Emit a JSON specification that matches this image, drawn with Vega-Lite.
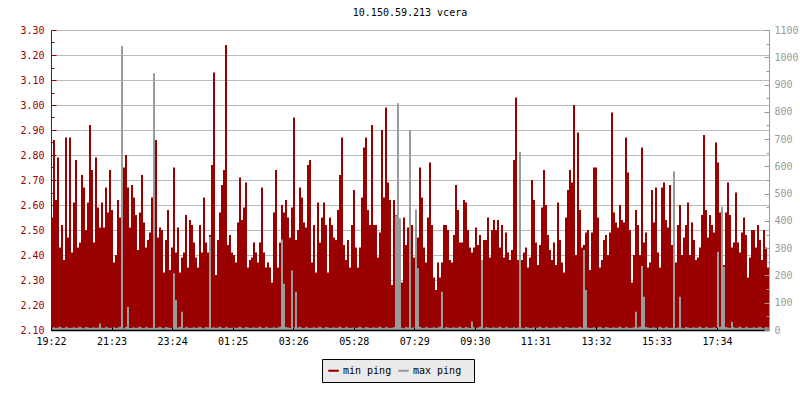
{
"$schema": "https://vega.github.io/schema/vega-lite/v6.json",
"width": 718, "height": 300,
"autosize": "none",
"padding": {"left": 51, "top": 30, "right": 31, "bottom": 70},
"background": "white",
"config": {"view": {"stroke": null}},
"title": {"text": "10.150.59.213 vcera", "font": "DejaVu Sans Mono", "fontSize": 10, "fontWeight": "normal", "color": "#000000", "offset": 7, "anchor": "middle"},
"data": {"values": [
{"t":0,"min":2.55,"max":8},{"t":4,"min":2.86,"max":10},{"t":8,"min":2.62,"max":7},{"t":12,"min":2.79,"max":9},{"t":16,"min":2.43,"max":12},{"t":20,"min":2.52,"max":8},{"t":24,"min":2.38,"max":6},{"t":28,"min":2.87,"max":11},{"t":32,"min":2.47,"max":9},{"t":36,"min":2.87,"max":7},
{"t":40,"min":2.41,"max":8},{"t":44,"min":2.61,"max":10},{"t":48,"min":2.78,"max":7},{"t":52,"min":2.43,"max":9},{"t":56,"min":2.45,"max":12},{"t":60,"min":2.72,"max":8},{"t":64,"min":2.67,"max":6},{"t":68,"min":2.50,"max":11},{"t":72,"min":2.61,"max":9},{"t":76,"min":2.92,"max":7},
{"t":80,"min":2.74,"max":8},{"t":84,"min":2.45,"max":10},{"t":88,"min":2.79,"max":7},{"t":92,"min":2.59,"max":9},{"t":96,"min":2.51,"max":24},{"t":100,"min":2.61,"max":8},{"t":104,"min":2.51,"max":6},{"t":108,"min":2.67,"max":11},{"t":112,"min":2.57,"max":9},{"t":116,"min":2.74,"max":7},
{"t":120,"min":2.58,"max":8},{"t":124,"min":2.37,"max":10},{"t":128,"min":2.40,"max":7},{"t":132,"min":2.62,"max":9},{"t":136,"min":2.55,"max":12},{"t":140,"min":2.67,"max":1041},{"t":144,"min":2.75,"max":6},{"t":148,"min":2.80,"max":11},{"t":152,"min":2.67,"max":85},{"t":156,"min":2.51,"max":7},
{"t":160,"min":2.68,"max":8},{"t":164,"min":2.63,"max":10},{"t":168,"min":2.56,"max":7},{"t":172,"min":2.42,"max":9},{"t":176,"min":2.57,"max":12},{"t":180,"min":2.72,"max":8},{"t":184,"min":2.53,"max":6},{"t":188,"min":2.43,"max":11},{"t":192,"min":2.46,"max":9},{"t":196,"min":2.49,"max":7},
{"t":200,"min":2.63,"max":8},{"t":204,"min":2.62,"max":941},{"t":208,"min":2.86,"max":7},{"t":212,"min":2.47,"max":9},{"t":216,"min":2.51,"max":12},{"t":220,"min":2.50,"max":8},{"t":224,"min":2.33,"max":6},{"t":228,"min":2.46,"max":11},{"t":232,"min":2.58,"max":9},{"t":236,"min":2.34,"max":7},
{"t":240,"min":2.43,"max":8},{"t":244,"min":2.75,"max":208},{"t":248,"min":2.41,"max":110},{"t":252,"min":2.51,"max":9},{"t":256,"min":2.33,"max":12},{"t":260,"min":2.39,"max":67},{"t":264,"min":2.41,"max":6},{"t":268,"min":2.56,"max":11},{"t":272,"min":2.35,"max":9},{"t":276,"min":2.54,"max":7},
{"t":280,"min":2.52,"max":8},{"t":284,"min":2.45,"max":10},{"t":288,"min":2.39,"max":7},{"t":292,"min":2.35,"max":9},{"t":296,"min":2.52,"max":12},{"t":300,"min":2.41,"max":8},{"t":304,"min":2.63,"max":6},{"t":308,"min":2.45,"max":11},{"t":312,"min":2.41,"max":9},{"t":316,"min":2.48,"max":342},
{"t":320,"min":2.76,"max":8},{"t":324,"min":3.13,"max":10},{"t":328,"min":2.32,"max":7},{"t":332,"min":2.46,"max":9},{"t":336,"min":2.57,"max":12},{"t":340,"min":2.68,"max":8},{"t":344,"min":2.74,"max":6},{"t":348,"min":3.24,"max":11},{"t":352,"min":2.44,"max":9},{"t":356,"min":2.48,"max":7},
{"t":360,"min":2.41,"max":8},{"t":364,"min":2.40,"max":10},{"t":368,"min":2.37,"max":7},{"t":372,"min":2.53,"max":9},{"t":376,"min":2.71,"max":12},{"t":380,"min":2.54,"max":8},{"t":384,"min":2.59,"max":6},{"t":388,"min":2.69,"max":11},{"t":392,"min":2.35,"max":9},{"t":396,"min":2.38,"max":7},
{"t":400,"min":2.39,"max":8},{"t":404,"min":2.45,"max":10},{"t":408,"min":2.41,"max":7},{"t":412,"min":2.37,"max":9},{"t":416,"min":2.45,"max":12},{"t":420,"min":2.67,"max":8},{"t":424,"min":2.41,"max":6},{"t":428,"min":2.35,"max":11},{"t":432,"min":2.37,"max":9},{"t":436,"min":2.35,"max":7},
{"t":440,"min":2.29,"max":8},{"t":444,"min":2.57,"max":10},{"t":448,"min":2.74,"max":7},{"t":452,"min":2.35,"max":9},{"t":456,"min":2.45,"max":12},{"t":460,"min":2.60,"max":332},{"t":464,"min":2.57,"max":170},{"t":468,"min":2.62,"max":11},{"t":472,"min":2.55,"max":9},{"t":476,"min":2.47,"max":7},
{"t":480,"min":2.59,"max":218},{"t":484,"min":2.95,"max":10},{"t":488,"min":2.46,"max":140},{"t":492,"min":2.50,"max":9},{"t":496,"min":2.67,"max":12},{"t":500,"min":2.63,"max":8},{"t":504,"min":2.53,"max":6},{"t":508,"min":2.51,"max":11},{"t":512,"min":2.76,"max":9},{"t":516,"min":2.78,"max":7},
{"t":520,"min":2.37,"max":8},{"t":524,"min":2.52,"max":10},{"t":528,"min":2.33,"max":7},{"t":532,"min":2.61,"max":9},{"t":536,"min":2.45,"max":12},{"t":540,"min":2.55,"max":8},{"t":544,"min":2.61,"max":6},{"t":548,"min":2.52,"max":11},{"t":552,"min":2.33,"max":9},{"t":556,"min":2.55,"max":7},
{"t":560,"min":2.52,"max":8},{"t":564,"min":2.47,"max":10},{"t":568,"min":2.46,"max":7},{"t":572,"min":2.58,"max":9},{"t":576,"min":2.72,"max":12},{"t":580,"min":2.87,"max":8},{"t":584,"min":2.44,"max":6},{"t":588,"min":2.38,"max":11},{"t":592,"min":2.46,"max":9},{"t":596,"min":2.35,"max":7},
{"t":600,"min":2.52,"max":8},{"t":604,"min":2.66,"max":10},{"t":608,"min":2.43,"max":7},{"t":612,"min":2.35,"max":9},{"t":616,"min":2.43,"max":12},{"t":620,"min":2.63,"max":8},{"t":624,"min":2.83,"max":6},{"t":628,"min":2.87,"max":11},{"t":632,"min":2.58,"max":9},{"t":636,"min":2.52,"max":7},
{"t":640,"min":2.92,"max":8},{"t":644,"min":2.52,"max":10},{"t":648,"min":2.52,"max":7},{"t":652,"min":2.39,"max":9},{"t":656,"min":2.49,"max":12},{"t":660,"min":2.90,"max":8},{"t":664,"min":2.63,"max":6},{"t":668,"min":2.99,"max":11},{"t":672,"min":2.69,"max":9},{"t":676,"min":2.62,"max":7},
{"t":680,"min":2.28,"max":8},{"t":684,"min":2.62,"max":10},{"t":688,"min":2.56,"max":420},{"t":692,"min":2.63,"max":831},{"t":696,"min":2.39,"max":410},{"t":700,"min":2.29,"max":8},{"t":704,"min":2.55,"max":6},{"t":708,"min":2.44,"max":11},{"t":712,"min":2.51,"max":9},{"t":716,"min":2.50,"max":733},
{"t":720,"min":2.52,"max":8},{"t":724,"min":2.39,"max":10},{"t":728,"min":2.55,"max":442},{"t":732,"min":2.47,"max":226},{"t":736,"min":2.75,"max":12},{"t":740,"min":2.63,"max":8},{"t":744,"min":2.43,"max":6},{"t":748,"min":2.37,"max":11},{"t":752,"min":2.55,"max":9},{"t":756,"min":2.77,"max":7},
{"t":760,"min":2.52,"max":8},{"t":764,"min":2.31,"max":10},{"t":768,"min":2.26,"max":7},{"t":772,"min":2.37,"max":9},{"t":776,"min":2.31,"max":12},{"t":780,"min":2.37,"max":140},{"t":784,"min":2.52,"max":6},{"t":788,"min":2.52,"max":11},{"t":792,"min":2.50,"max":9},{"t":796,"min":2.38,"max":7},
{"t":800,"min":2.37,"max":8},{"t":804,"min":2.48,"max":10},{"t":808,"min":2.68,"max":7},{"t":812,"min":2.58,"max":9},{"t":816,"min":2.45,"max":12},{"t":820,"min":2.45,"max":8},{"t":824,"min":2.62,"max":6},{"t":828,"min":2.61,"max":11},{"t":832,"min":2.50,"max":9},{"t":836,"min":2.43,"max":7},
{"t":840,"min":2.41,"max":31},{"t":844,"min":2.43,"max":10},{"t":848,"min":2.51,"max":7},{"t":852,"min":2.44,"max":9},{"t":856,"min":2.48,"max":12},{"t":860,"min":2.34,"max":257},{"t":864,"min":2.46,"max":6},{"t":868,"min":2.46,"max":11},{"t":872,"min":2.55,"max":9},{"t":876,"min":2.39,"max":7},
{"t":880,"min":2.50,"max":8},{"t":884,"min":2.54,"max":10},{"t":888,"min":2.50,"max":7},{"t":892,"min":2.54,"max":9},{"t":896,"min":2.43,"max":12},{"t":900,"min":2.52,"max":8},{"t":904,"min":2.39,"max":6},{"t":908,"min":2.49,"max":11},{"t":912,"min":2.41,"max":9},{"t":916,"min":2.38,"max":7},
{"t":920,"min":2.42,"max":8},{"t":924,"min":2.78,"max":10},{"t":928,"min":3.03,"max":7},{"t":932,"min":2.38,"max":9},{"t":936,"min":2.48,"max":654},{"t":940,"min":2.38,"max":8},{"t":944,"min":2.41,"max":6},{"t":948,"min":2.43,"max":11},{"t":952,"min":2.35,"max":9},{"t":956,"min":2.39,"max":7},
{"t":960,"min":2.70,"max":8},{"t":964,"min":2.62,"max":10},{"t":968,"min":2.45,"max":7},{"t":972,"min":2.36,"max":9},{"t":976,"min":2.44,"max":12},{"t":980,"min":2.59,"max":8},{"t":984,"min":2.74,"max":6},{"t":988,"min":2.60,"max":11},{"t":992,"min":2.48,"max":9},{"t":996,"min":2.42,"max":7},
{"t":1000,"min":2.38,"max":8},{"t":1004,"min":2.45,"max":10},{"t":1008,"min":2.36,"max":7},{"t":1012,"min":2.61,"max":9},{"t":1016,"min":2.46,"max":12},{"t":1020,"min":2.37,"max":8},{"t":1024,"min":2.33,"max":6},{"t":1028,"min":2.55,"max":11},{"t":1032,"min":2.66,"max":9},{"t":1036,"min":2.74,"max":7},
{"t":1040,"min":2.69,"max":8},{"t":1044,"min":3.00,"max":10},{"t":1048,"min":2.40,"max":7},{"t":1052,"min":2.89,"max":9},{"t":1056,"min":2.58,"max":12},{"t":1060,"min":2.43,"max":8},{"t":1064,"min":2.44,"max":293},{"t":1068,"min":2.49,"max":147},{"t":1072,"min":2.50,"max":9},{"t":1076,"min":2.34,"max":7},
{"t":1080,"min":2.49,"max":8},{"t":1084,"min":2.75,"max":10},{"t":1088,"min":2.75,"max":7},{"t":1092,"min":2.55,"max":9},{"t":1096,"min":2.35,"max":12},{"t":1100,"min":2.38,"max":8},{"t":1104,"min":2.46,"max":6},{"t":1108,"min":2.48,"max":11},{"t":1112,"min":2.40,"max":9},{"t":1116,"min":2.49,"max":7},
{"t":1120,"min":2.97,"max":8},{"t":1124,"min":2.57,"max":10},{"t":1128,"min":2.53,"max":7},{"t":1132,"min":2.51,"max":9},{"t":1136,"min":2.60,"max":12},{"t":1140,"min":2.54,"max":8},{"t":1144,"min":2.53,"max":6},{"t":1148,"min":2.87,"max":11},{"t":1152,"min":2.73,"max":9},{"t":1156,"min":2.50,"max":7},
{"t":1160,"min":2.29,"max":8},{"t":1164,"min":2.40,"max":10},{"t":1168,"min":2.58,"max":67},{"t":1172,"min":2.52,"max":9},{"t":1176,"min":2.40,"max":12},{"t":1180,"min":2.83,"max":235},{"t":1184,"min":2.45,"max":122},{"t":1188,"min":2.49,"max":11},{"t":1192,"min":2.35,"max":9},{"t":1196,"min":2.37,"max":7},
{"t":1200,"min":2.66,"max":8},{"t":1204,"min":2.53,"max":10},{"t":1208,"min":2.67,"max":7},{"t":1212,"min":2.41,"max":9},{"t":1216,"min":2.35,"max":12},{"t":1220,"min":2.67,"max":8},{"t":1224,"min":2.69,"max":6},{"t":1228,"min":2.54,"max":11},{"t":1232,"min":2.51,"max":9},{"t":1236,"min":2.68,"max":7},
{"t":1240,"min":2.44,"max":8},{"t":1244,"min":2.42,"max":581},{"t":1248,"min":2.37,"max":7},{"t":1252,"min":2.52,"max":9},{"t":1256,"min":2.60,"max":122},{"t":1260,"min":2.40,"max":8},{"t":1264,"min":2.47,"max":6},{"t":1268,"min":2.52,"max":11},{"t":1272,"min":2.61,"max":9},{"t":1276,"min":2.40,"max":7},
{"t":1280,"min":2.53,"max":8},{"t":1284,"min":2.46,"max":10},{"t":1288,"min":2.38,"max":7},{"t":1292,"min":2.39,"max":9},{"t":1296,"min":2.43,"max":12},{"t":1300,"min":2.56,"max":8},{"t":1304,"min":2.88,"max":6},{"t":1308,"min":2.58,"max":11},{"t":1312,"min":2.47,"max":9},{"t":1316,"min":2.56,"max":7},
{"t":1320,"min":2.52,"max":8},{"t":1324,"min":2.49,"max":10},{"t":1328,"min":2.85,"max":7},{"t":1332,"min":2.77,"max":287},{"t":1336,"min":2.57,"max":12},{"t":1340,"min":2.43,"max":452},{"t":1344,"min":2.36,"max":232},{"t":1348,"min":2.57,"max":11},{"t":1352,"min":2.69,"max":9},{"t":1356,"min":2.56,"max":7},
{"t":1360,"min":2.43,"max":30},{"t":1364,"min":2.45,"max":10},{"t":1368,"min":2.65,"max":7},{"t":1372,"min":2.45,"max":9},{"t":1376,"min":2.41,"max":12},{"t":1380,"min":2.49,"max":8},{"t":1384,"min":2.55,"max":6},{"t":1388,"min":2.48,"max":11},{"t":1392,"min":2.31,"max":9},{"t":1396,"min":2.39,"max":7},
{"t":1400,"min":2.50,"max":8},{"t":1404,"min":2.50,"max":10},{"t":1408,"min":2.43,"max":7},{"t":1412,"min":2.52,"max":9},{"t":1416,"min":2.46,"max":12},{"t":1420,"min":2.38,"max":8},{"t":1424,"min":2.50,"max":6},{"t":1428,"min":2.43,"max":11},{"t":1432,"min":2.35,"max":9},{"t":1436,"min":2.46,"max":7}
]},
"encoding": {
  "x": {"field": "t", "type": "quantitative",
    "scale": {"domain": [0, 1436], "nice": false, "zero": false},
    "axis": {"title": null, "grid": false, "values": [0,121.1,242.2,363.3,484.4,605.5,726.6,847.7,968.8,1089.9,1211,1332.1],
      "labelExpr": "utcFormat((datum.value + 1162.5) * 60000, '%H:%M')",
      "labelFlush": false, "labelOverlap": false,
      "labelFont": "DejaVu Sans Mono", "labelFontSize": 10, "labelColor": "#000000",
      "domainColor": "#000000", "domainWidth": 1.5, "tickColor": "#000000", "tickSize": -3, "labelPadding": 9, "zindex": 1}}
},
"layer": [
  {"mark": {"type": "area", "interpolate": "step-after", "opacity": 1, "clip": true},
   "encoding": {
     "y": {"field": "min", "type": "quantitative",
       "scale": {"domain": [2.1, 3.3], "nice": false, "zero": false},
       "axis": {"orient": "left", "title": null,
         "values": [2.1,2.15,2.2,2.25,2.3,2.35,2.4,2.45,2.5,2.55,2.6,2.65,2.7,2.75,2.8,2.85,2.9,2.95,3.0,3.05,3.1,3.15,3.2,3.25,3.3],
         "labelExpr": "round(datum.value*100) % 10 == 0 ? format(datum.value, '.2f') : ''",
         "labelFlush": false, "labelOverlap": false,
         "labelFont": "DejaVu Sans Mono", "labelFontSize": 10, "labelColor": "#990000",
         "domainColor": "#990000", "tickColor": "#990000",
         "tickSize": {"condition": {"test": "round(datum.value*100) % 10 == 0", "value": -5}, "value": -3},
         "labelPadding": 12,
         "grid": true, "gridColor": "#bbbbbb",
         "gridOpacity": {"condition": {"test": "round(datum.value*100) % 10 == 0", "value": 1}, "value": 0},
         "zindex": 0}},
     "y2": {"datum": 2.1},
     "color": {"datum": "min ping", "type": "nominal",
       "scale": {"domain": ["min ping", "max ping"], "range": ["#990000", "#9a9a9a"]},
       "legend": {"orient": "none", "legendX": 271, "legendY": 329, "direction": "horizontal", "title": " ",
         "titleOrient": "right", "titlePadding": 7, "titleFontSize": 10, "titleFont": "DejaVu Sans Mono",
         "fillColor": "#ebebeb", "strokeColor": "#000000", "padding": 6, "cornerRadius": 0,
         "symbolType": "M-1,-0.2H1V0.2H-1Z", "symbolSize": 110, "symbolStrokeWidth": 0, "symbolOpacity": 1,
         "labelFont": "DejaVu Sans Mono", "labelFontSize": 10, "labelColor": "#000000", "labelOffset": 4, "columnPadding": 6}}
   }},
  {"mark": {"type": "area", "interpolate": "step-after", "opacity": 1, "clip": true},
   "encoding": {
     "y": {"field": "max", "type": "quantitative",
       "scale": {"domain": [0, 1100], "nice": false},
       "axis": {"orient": "right", "title": null,
         "values": [0,50,100,150,200,250,300,350,400,450,500,550,600,650,700,750,800,850,900,950,1000,1050,1100],
         "labelExpr": "datum.value % 100 == 0 ? format(datum.value, 'd') : ''",
         "labelFlush": false, "labelOverlap": false,
         "labelFont": "DejaVu Sans Mono", "labelFontSize": 10, "labelColor": "#999999",
         "domainColor": "#999999", "tickColor": "#999999",
         "tickSize": {"condition": {"test": "datum.value % 100 == 0", "value": -5}, "value": -3},
         "labelPadding": 10, "grid": false, "zindex": 1}},
     "color": {"datum": "max ping", "type": "nominal"}
   }}
],
"resolve": {"scale": {"y": "independent"}}
}
